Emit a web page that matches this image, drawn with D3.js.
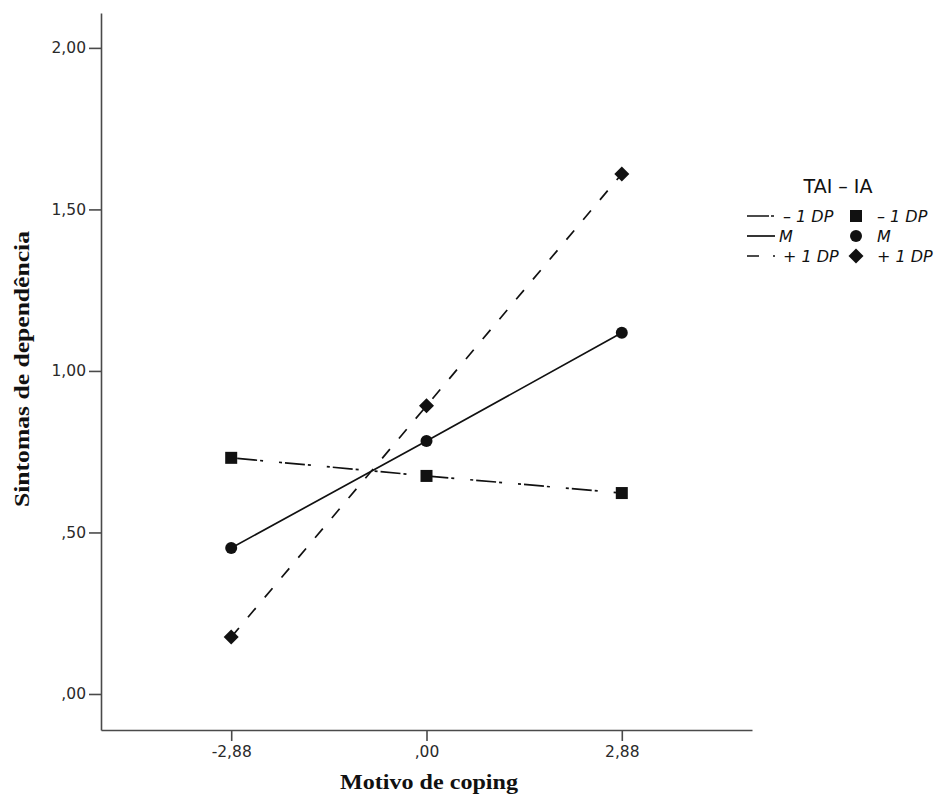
<!DOCTYPE html>
<html>
<head>
<meta charset="utf-8">
<script src="https://cdn.jsdelivr.net/npm/d3@7/dist/d3.min.js"></script>
<style>
  html, body { margin: 0; padding: 0; background: #fff; }
  svg { display: block; }
</style>
</head>
<body>
<svg id="chart" width="936" height="806"></svg>
<script>
// ---- data ----
const xValues = [-2.88, 0, 2.88];
const xTickLabels = ["-2,88", ",00", "2,88"];
const yTicks = [0, 0.5, 1.0, 1.5, 2.0];
const yTickLabels = [",00", ",50", "1,00", "1,50", "2,00"];
const seriesNames = ["– 1 DP", "M", "+ 1 DP"];
const lowValues = [0.731, 0.675, 0.622];
const meanValues = [0.452, 0.783, 1.118];
const highValues = [0.176, 0.892, 1.610];
const legendTitle = "TAI – IA";
const xTitle = "Motivo de coping";
const yTitle = "Sintomas de dependência";

const series = [
  { name: seriesNames[0], values: lowValues, dash: "3,3,20,3,3,16", shape: "square" },
  { name: seriesNames[1], values: meanValues, dash: null, shape: "circle" },
  { name: seriesNames[2], values: highValues, dash: "12,14", shape: "diamond" }
];

const svg = d3.select("#chart");
const ink = "#111";
const axisColor = "#4a4a4a";

const x = d3.scaleLinear().domain([-4.8, 4.8]).range([101, 752]);
const y = d3.scaleLinear().domain([-0.1115, 2.108]).range([730, 13]);

// axes
const yAxis = d3.axisLeft(y).tickValues(yTicks)
  .tickFormat((d, i) => yTickLabels[i]).tickSize(12).tickPadding(3).tickSizeOuter(0);
const gy = svg.append("g").attr("transform", "translate(101,0)").call(yAxis);
gy.select(".domain").attr("stroke", axisColor).attr("stroke-width", 1.6);
gy.selectAll(".tick line").attr("stroke", axisColor).attr("stroke-width", 1.6);
gy.selectAll(".tick text").attr("fill", "#2a2a2a").style("font-family", "DejaVu Sans, sans-serif").style("font-size", "15.5px");

const xAxis = d3.axisBottom(x).tickValues(xValues)
  .tickFormat((d, i) => xTickLabels[i]).tickSize(11).tickPadding(5).tickSizeOuter(0);
const gx = svg.append("g").attr("transform", "translate(0,730)").call(xAxis);
gx.select(".domain").attr("stroke", axisColor).attr("stroke-width", 1.6);
gx.selectAll(".tick line").attr("stroke", axisColor).attr("stroke-width", 1.6);
gx.selectAll(".tick text").attr("fill", "#2a2a2a").style("font-family", "DejaVu Sans, sans-serif").style("font-size", "15.5px");

// titles
svg.append("text")
  .attr("x", 340).attr("y", 789)
  .attr("textLength", 178).attr("lengthAdjust", "spacingAndGlyphs")
  .style("font-family", "Liberation Serif, Times New Roman, serif")
  .style("font-weight", "bold").style("font-size", "20px").attr("fill", ink)
  .text(xTitle);

svg.append("text")
  .attr("transform", "translate(29,507) rotate(-90)")
  .attr("x", 0).attr("y", 0)
  .attr("textLength", 276).attr("lengthAdjust", "spacingAndGlyphs")
  .style("font-family", "Liberation Serif, Times New Roman, serif")
  .style("font-weight", "bold").style("font-size", "20px").attr("fill", ink)
  .text(yTitle);

// symbols
function drawMarker(g, shape, cx, cy) {
  if (shape === "square") {
    g.append("rect").attr("x", cx - 6).attr("y", cy - 6).attr("width", 12).attr("height", 12).attr("fill", ink);
  } else if (shape === "circle") {
    g.append("circle").attr("cx", cx).attr("cy", cy).attr("r", 6).attr("fill", ink);
  } else {
    const r = 7.5;
    g.append("path").attr("d", `M${cx},${cy - r}L${cx + r},${cy}L${cx},${cy + r}L${cx - r},${cy}Z`).attr("fill", ink);
  }
}

const line = d3.line().x((d, i) => x(xValues[i])).y(d => y(d));
const plot = svg.append("g");
series.forEach(s => {
  const p = plot.append("path").datum(s.values)
    .attr("d", line).attr("fill", "none").attr("stroke", ink).attr("stroke-width", 1.7);
  if (s.dash) p.attr("stroke-dasharray", s.dash);
});
series.forEach(s => {
  s.values.forEach((v, i) => drawMarker(plot, s.shape, x(xValues[i]), y(v)));
});

// legend
const lg = svg.append("g");
lg.append("text").attr("x", 838).attr("y", 193).attr("text-anchor", "middle")
  .style("font-family", "DejaVu Sans, sans-serif").style("font-size", "19px").attr("fill", ink)
  .text(legendTitle);
series.forEach((s, i) => {
  const cy = 216 + i * 20;
  const l = lg.append("line").attr("x1", 747).attr("x2", 775).attr("y1", cy).attr("y2", cy)
    .attr("stroke", ink).attr("stroke-width", 1.7);
  if (s.dash) l.attr("stroke-dasharray", i === 0 ? "22,2,3,10" : "12,14");
  lg.append("text").attr("x", i === 1 ? 779 : 783).attr("y", cy + 5.5)
    .style("font-family", "DejaVu Sans, sans-serif").style("font-style", "italic").style("font-size", "16px").attr("fill", ink)
    .text(s.name);
  drawMarker(lg, s.shape, 856, cy);
  lg.append("text").attr("x", 877).attr("y", cy + 5.5)
    .style("font-family", "DejaVu Sans, sans-serif").style("font-style", "italic").style("font-size", "16px").attr("fill", ink)
    .text(s.name);
});
</script>
</body>
</html>
